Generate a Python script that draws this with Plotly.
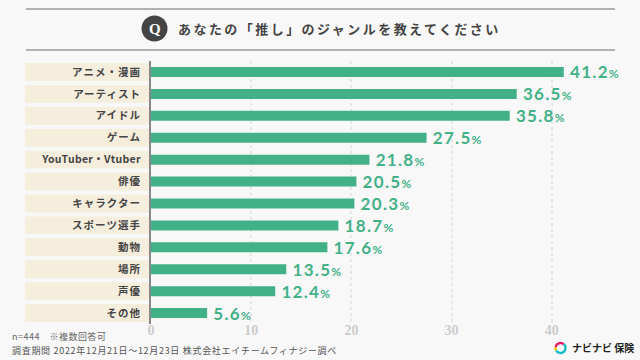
import math
import plotly.graph_objects as go

categories = ["アニメ・漫画", "アーティスト", "アイドル", "ゲーム", "YouTuber・Vtuber", "俳優",
              "キャラクター", "スポーツ選手", "動物", "場所", "声優", "その他"]
values = [41.2, 36.5, 35.8, 27.5, 21.8, 20.5, 20.3, 18.7, 17.6, 13.5, 12.4, 5.6]
title_text = "あなたの「推し」のジャンルを教えてください"
note_1 = "n=444　※複数回答可"
note_2 = "調査期間 2022年12月21日〜12月23日 株式会社エイチームフィナジー調べ"
logo_text = "ナビナビ 保険"

W, H = 640, 360
L, T, B = 151, 61, 36
PW, PH = W - L, H - T - B
JP = "'Noto Sans CJK JP'"
GREEN = "#43b188"
DARK = "#444444"


def px(x):
    return (x - L) / PW


def py(y):
    return 1 - (y - T) / PH


def ls(s, n):
    return f'<span style="letter-spacing:{n}px">{s}</span>'


bar_labels = [
    f'\u2009\u200a<span style="letter-spacing:1.3px">{v:.1f}</span><span style="font-size:12px">%</span>'
    for v in values
]
tick_labels = [ls(c, 0.3) if c.isascii() or "Y" in c else ls(c, 1) for c in categories]

fig = go.Figure(go.Bar(
    y=categories, x=values, orientation="h", width=10 / (PH / 12),
    marker=dict(color=GREEN, line_width=0),
    text=bar_labels, textposition="outside", cliponaxis=False, constraintext="none",
    textfont=dict(family="Lato", size=17, color=GREEN, weight="bold"),
    hoverinfo="skip",
))

shapes = []
for i in range(len(categories)):
    shapes.append(dict(type="rect", xref="paper", yref="y", x0=px(25), x1=px(149.5),
                       y0=i - 0.41, y1=i + 0.41, fillcolor="#f6eedd", line_width=0, layer="below"))
for yy in (9, 50):
    shapes.append(dict(type="line", xref="paper", yref="paper", x0=px(26), x1=px(615),
                       y0=py(yy), y1=py(yy), line=dict(color="#9a9a9a", width=1.5)))
# question badge
shapes.append(dict(type="circle", xref="paper", yref="paper", x0=px(141.5), x1=px(167.5),
                   y0=py(41.5), y1=py(15.5), fillcolor="#444444", line_width=0))


def ring_path(a0, a1):
    cx, cy, r = 560.5, 348, 5
    pts = []
    for k in range(13):
        a = math.radians(a0 + (a1 - a0) * k / 12)
        pts.append((px(cx + r * math.cos(a)), py(cy + r * math.sin(a))))
    return "M " + " L ".join(f"{a},{b}" for a, b in pts)


def arc(color, d):
    return dict(type="path", xref="paper", yref="paper", path=d, line=dict(color=color, width=2.4))


shapes.append(arc("#e5186a", ring_path(190, 310)))
shapes.append(arc("#f5c400", ring_path(150, 190)))
shapes.append(arc("#12bdc9", ring_path(-50, 150)))

annotations = [
    dict(xref="paper", yref="paper", x=px(154.5), y=py(28.5), text="<b>Q</b>", showarrow=False,
         font=dict(family="Liberation Serif", size=15, color="white"), xanchor="center", yanchor="middle"),
    dict(xref="paper", yref="paper", x=px(176), y=py(28.5), text="<b>" + ls(title_text, 2.45) + "</b>", showarrow=False,
         font=dict(family=JP, size=13, color=DARK), xanchor="left", yanchor="middle"),
    dict(xref="paper", yref="paper", x=px(10), y=py(336), text=ls(note_1, 0.5), showarrow=False,
         font=dict(family=JP, size=9, color="#666666"), xanchor="left", yanchor="middle"),
    dict(xref="paper", yref="paper", x=px(10), y=py(350), text=ls(note_2, 0.7), showarrow=False,
         font=dict(family=JP, size=9, color="#555555"), xanchor="left", yanchor="middle"),
    dict(xref="paper", yref="paper", x=px(570), y=py(347.5), text="<b>" + logo_text + "</b>", showarrow=False,
         font=dict(family=JP, size=10, color="#222222"), xanchor="left", yanchor="middle"),
]

fig.update_layout(
    width=W, height=H, autosize=False,
    margin=dict(l=L, r=0, t=T, b=B),
    paper_bgcolor="#f8f8f8", plot_bgcolor="#f8f8f8",
    showlegend=False, shapes=shapes, annotations=annotations,
    xaxis=dict(range=[0, PW / 10.02], tickvals=[0, 10, 20, 30, 40], showline=False, zeroline=False,
               showgrid=True, gridcolor="#e6e6e6", griddash="dot", gridwidth=1.5,
               tickfont=dict(family="Liberation Sans Narrow", size=14, color="#cccccc", weight="bold"),
               ticks="", ticklabelstandoff=-4),
    yaxis=dict(autorange="reversed", type="category", showline=True, linecolor="#888888", linewidth=2,
               showgrid=False, zeroline=False, ticks="outside", ticklen=6, tickcolor="rgba(0,0,0,0)",
               tickfont=dict(family=JP, size=10.5, color=DARK, weight="bold")),
)
fig.update_yaxes(ticktext=tick_labels, tickvals=categories)
fig.write_html("out.html", config=dict(displayModeBar=False),
               post_script="document.body.style.margin='0';document.body.style.overflow='hidden';document.body.style.background='#f8f8f8';")
